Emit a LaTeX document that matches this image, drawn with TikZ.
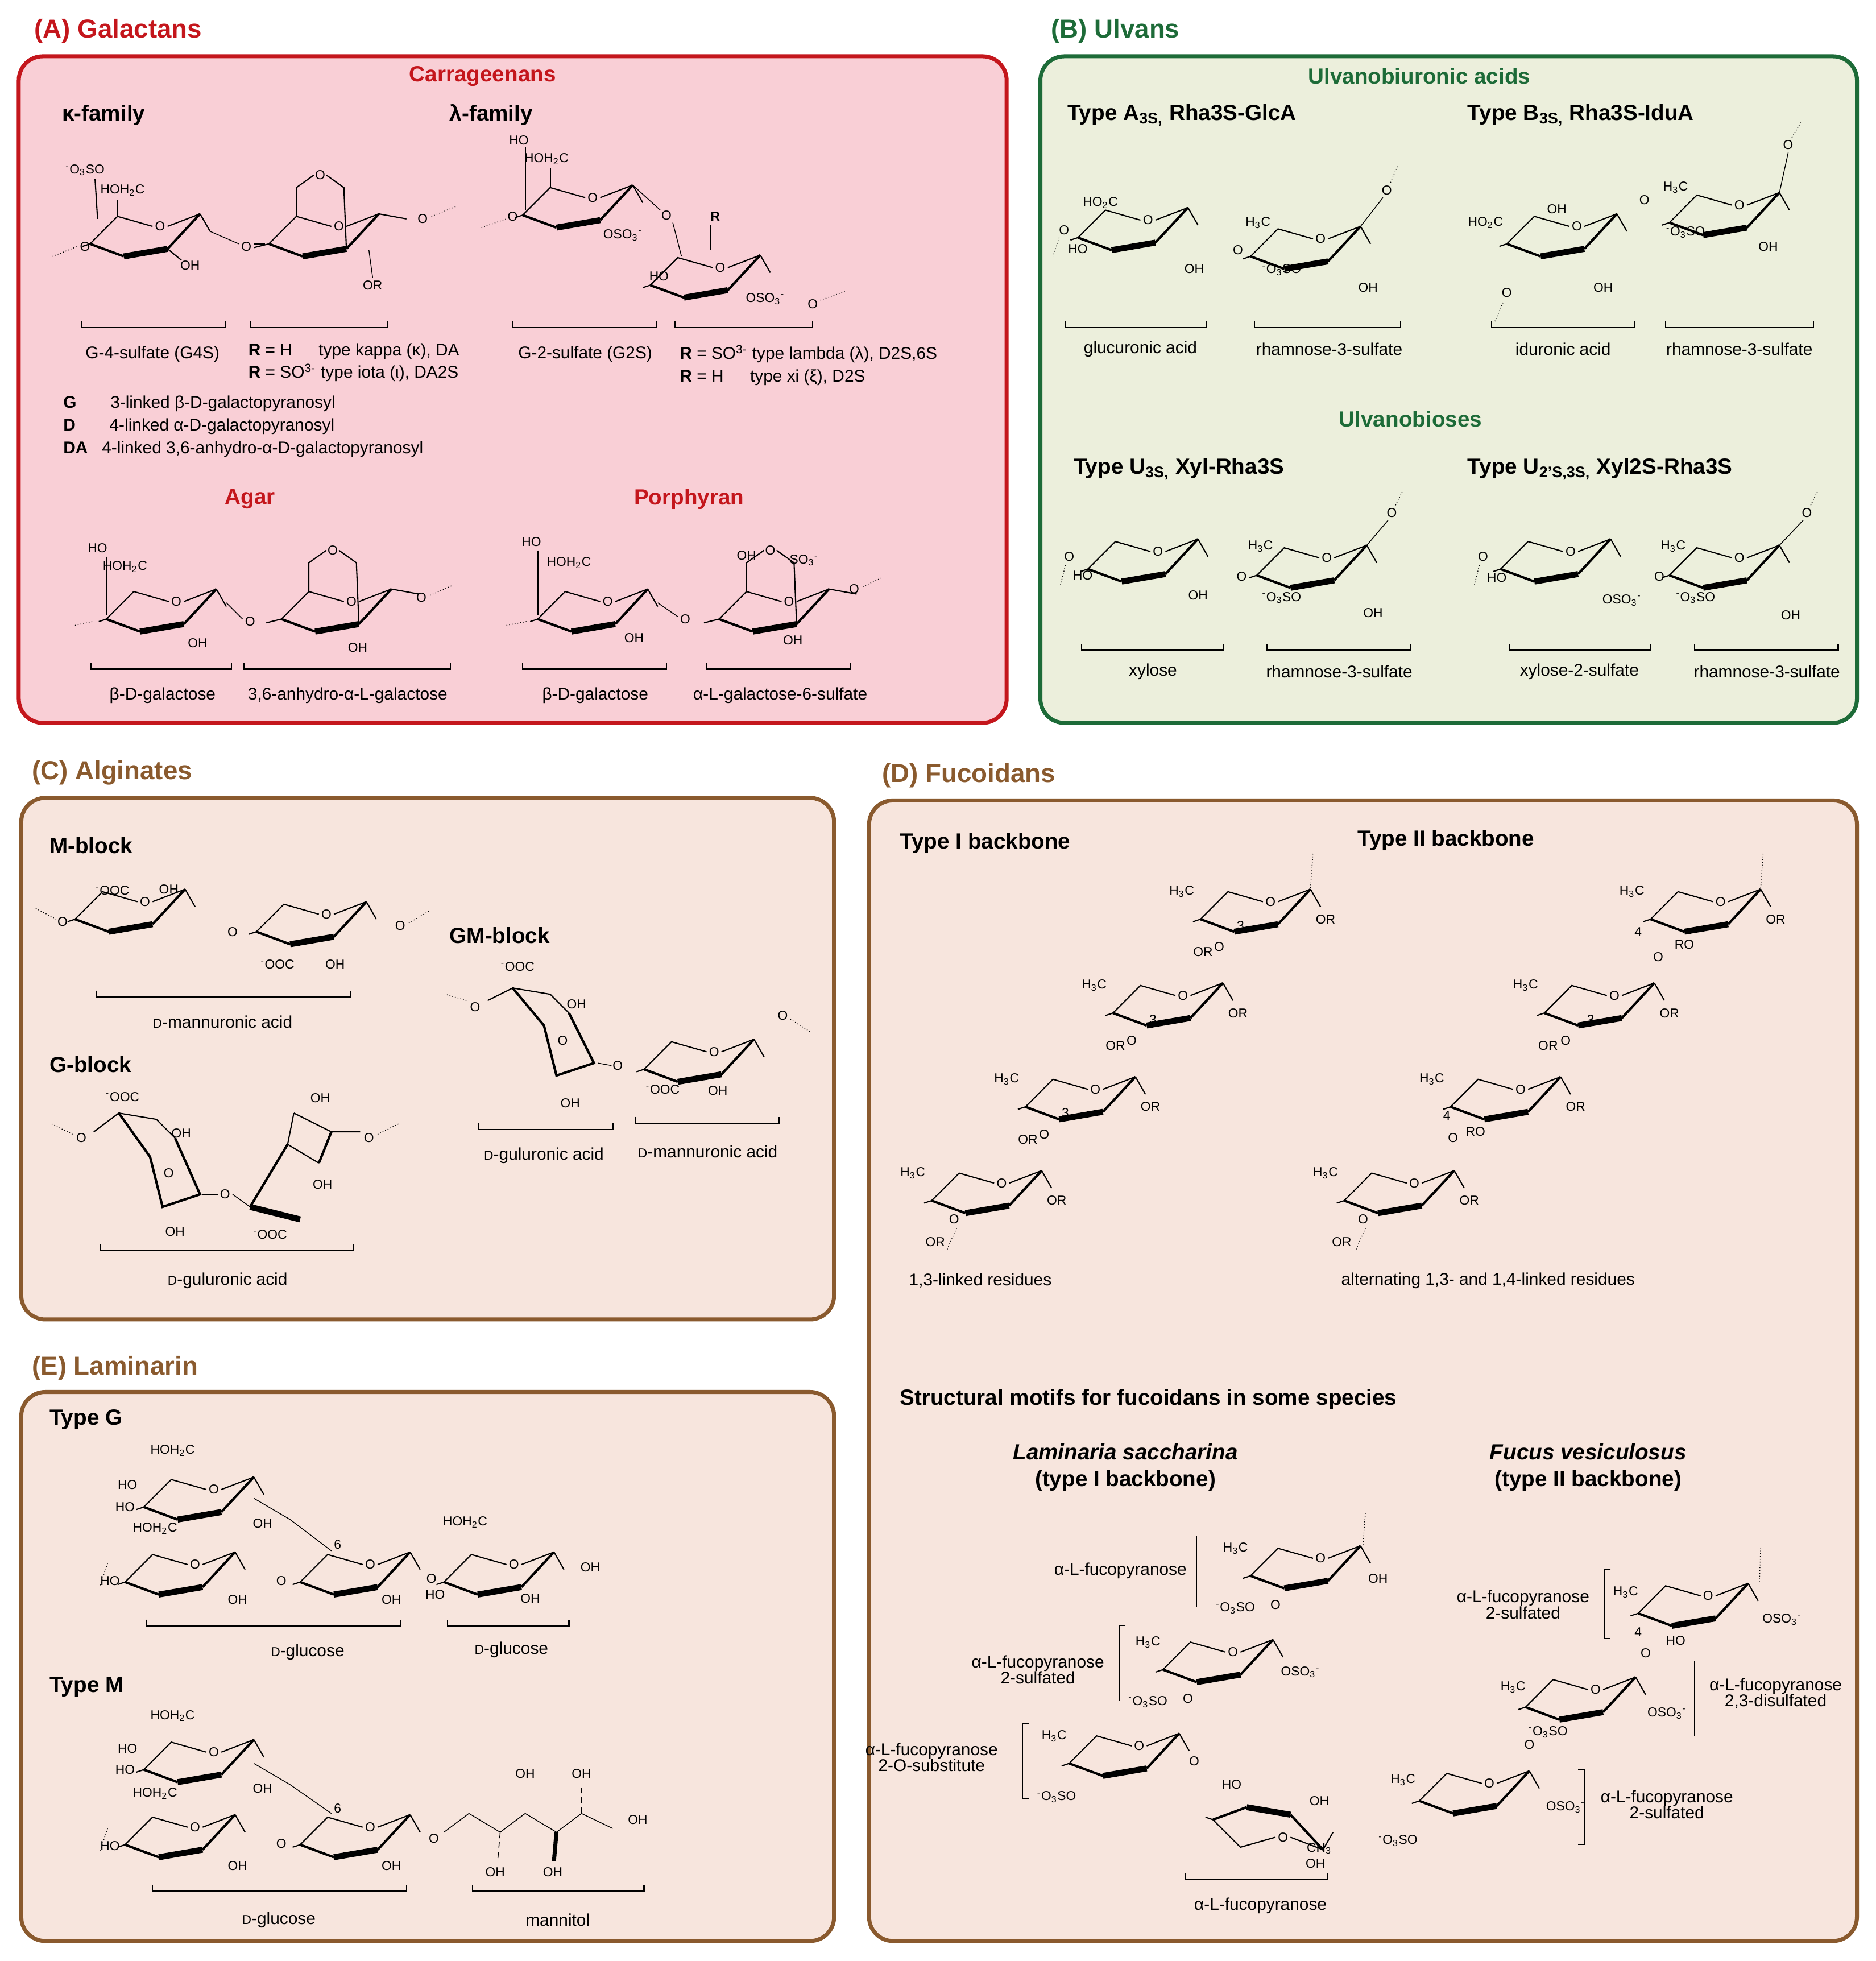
\documentclass[tikz,border=0pt]{standalone}
\usepackage{fontspec}
\setmainfont{Liberation Sans}
\begin{document}
\definecolor{pinkf}{HTML}{F9CFD6}\definecolor{redl}{HTML}{C4161C}
\definecolor{greenf}{HTML}{ECEFDC}\definecolor{greenl}{HTML}{1D6B38}
\definecolor{brownf}{HTML}{F7E5DD}\definecolor{brownl}{HTML}{8A5A2E}
\newcommand{\scD}{{\fontsize{6.5}{7}\selectfont D}}
\begin{tikzpicture}[x=0.022cm,y=-0.022cm,
 box/.style={rounded corners=12pt,line width=2pt},
 ttl/.style={font=\bfseries\fontsize{13}{15}\selectfont,anchor=west},
 sub/.style={font=\bfseries\fontsize{11}{13}\selectfont},
 lbl/.style={font=\fontsize{8.5}{10}\selectfont},
 sm/.style={font=\fontsize{6.5}{7}\selectfont,inner sep=1pt},
 chair/.pic={
  \draw[line width=0.6pt] (0,0)--(22,-22)--(50,-14);
  \draw[line width=0.6pt] (62,-14)--(88,-24);
  \node[sm] at (56,-14) {O};
  \draw[line width=1.2pt] (0,0)--(27,10);
  \draw[line width=3pt] (27,10)--(62,4);
  \draw[line width=1.2pt] (62,4)--(88,-24);
  \draw[line width=0.6pt] (88,-24)--(96,-10);
  \draw[line width=0.6pt] (0,0)--(-6,2);
 },
 bic/.pic={
  \draw[line width=0.6pt] (0,0)--(22,-22)--(50,-14);
  \draw[line width=0.6pt] (62,-14)--(88,-24);
  \node[sm] at (56,-14) {O};
  \draw[line width=1.2pt] (0,0)--(27,10);
  \draw[line width=3pt] (27,10)--(62,4);
  \draw[line width=1.2pt] (62,4)--(88,-24);
  \draw[line width=0.6pt] (22,-22)--(22,-45)--(36,-55); \draw[line width=0.6pt] (46,-55)--(60,-45)--(62,4);
  \node[sm] at (41,-55) {O};
  \draw[line width=0.6pt] (88,-24)--(110,-20);
  \draw[line width=0.6pt] (0,0)--(-12,3);
 }]
\newcommand{\brk}[3]{\draw[line width=0.6pt] (#1,#3-5)--(#1,#3)--(#2,#3)--(#2,#3-5);}
\newcommand{\lk}[2]{\node[sm] at (#1,#2) {O};}
\useasboundingbox (0,0) rectangle (1500,1568);
\fill[white] (0,0) rectangle (1500,1568);
% boxes
\draw[box,draw=redl,fill=pinkf] (15,45) rectangle (805,578);
\draw[box,draw=greenl,fill=greenf] (832,45) rectangle (1485,578);
\draw[box,draw=brownl,fill=brownf] (17,638) rectangle (667,1055);
\draw[box,draw=brownl,fill=brownf] (695,640) rectangle (1485,1552);
\draw[box,draw=brownl,fill=brownf] (17,1113) rectangle (667,1552);
\node[ttl,text=redl] (tA) at (22,25) {(A) Galactans};
\node[ttl,text=greenl] (tB) at (835,25) {(B) Ulvans};
\node[ttl,text=brownl] (tC) at (20,618) {(C) Alginates};
\node[ttl,text=brownl] (tD) at (700,620) {(D) Fucoidans};
\node[ttl,text=brownl] (tE) at (20,1094) {(E) Laminarin};
%%% A
\node[sub,text=redl] at (386,61) {Carrageenans};
\node[sub,anchor=west] at (44,92) {κ-family};
\node[sub,anchor=west] at (354,92) {λ-family};
\pic at (72,195) {chair}; \pic at (215,195) {bic};
\draw[densely dotted] (42,205)--(62,197); \node[sm] at (68,197){O};
\node[sm] at (68,136) {\textsuperscript{-}O\textsubscript{3}SO};
\node[sm] at (98,152) {HOH\textsubscript{2}C};
\draw[line width=0.6pt] (94,173)--(94,160); \draw[line width=0.6pt] (78,175)--(76,143);
\node[sm] at (152,212) {OH};\draw[line width=0.6pt](134,199)--(145,208);\lk{197}{197}
\draw (168,185)--(191,195); \draw (203,195)--(212,195);
\draw (295,200)--(298,222); \node[sm] at (298,228) {OR};
\lk{338}{175}\draw[densely dotted](345,173)--(365,165);
\brk{65}{180}{262}\brk{200}{310}{262}
\node[lbl] at (122,283) {G-4-sulfate (G4S)};
\node[lbl,anchor=west] at (193,281) {\textbf{R} = H\quad\ \ type kappa (κ), DA};
\node[lbl,anchor=west] at (193,298) {\textbf{R} = SO\textsuperscript{3-}\ type iota (ι), DA2S};
\node[lbl,anchor=west] at (45,323) {\textbf{G}\qquad 3-linked β-D-galactopyranosyl};
\node[lbl,anchor=west] at (45,341) {\textbf{D}\qquad 4-linked α-D-galactopyranosyl};
\node[lbl,anchor=west] at (45,359) {\textbf{DA}\ \ \ 4-linked 3,6-anhydro-α-D-galactopyranosyl};
\pic at (418,172) {chair}; \pic at (520,228) {chair};
\draw[densely dotted] (385,182)--(405,175); \lk{410}{173}
\node[sm] at (415,112) {HO}; \node[sm] at (437,127) {HOH\textsubscript{2}C};
\draw[line width=0.6pt](420,118)--(420,168);\draw[line width=0.6pt](440,150)--(440,134);
\node[sm] at (498,188) {OSO\textsubscript{3}\textsuperscript{-}}; \lk{533}{172}
\draw (506,148)--(528,168); \draw (538,178)--(545,205);
\node[sm] at (572,173) {\textbf{R}}; \draw (568,180)--(568,200);
\node[sm] at (527,221) {HO}; \node[sm] at (612,239) {OSO\textsubscript{3}\textsuperscript{-}};
\lk{650}{243}\draw[densely dotted](656,240)--(676,233);
\brk{410}{525}{262}\brk{540}{650}{262}
\node[lbl] at (468,283) {G-2-sulfate (G2S)};
\node[lbl,anchor=west] at (538,283) {\textbf{R} = SO\textsuperscript{3-}\ type lambda (λ), D2S,6S};
\node[lbl,anchor=west] at (538,302) {\textbf{R} = H\quad\ \ type xi (ξ), D2S};
\node[sub,text=redl] at (200,399) {Agar};
\node[sub,text=redl] at (551,399) {Porphyran};
\pic at (85,495) {chair}; \pic at (225,495) {bic};
\draw[densely dotted] (60,500)--(74,497);
\node[sm] at (78,438) {HO}; \node[sm] at (100,453) {HOH\textsubscript{2}C};
\draw[line width=0.6pt](85,445)--(85,492);
\node[sm] at (158,514) {OH}; \lk{200}{497}\draw(181,482)--(194,495);\node[sm] at (286,518) {OH};
\lk{337}{478}\draw[densely dotted](344,476)--(362,468);
\brk{73}{185}{535}\brk{195}{360}{535}
\node[lbl] at (130,556) {β-D-galactose};
\node[lbl] at (278,556) {3,6-anhydro-α-L-galactose};
\pic at (430,495) {chair}; \pic at (575,495) {bic};
\draw[densely dotted] (405,500)--(421,497);
\node[sm] at (425,433) {HO}; \node[sm] at (455,450) {HOH\textsubscript{2}C};
\draw[line width=0.6pt](430,440)--(430,492);
\node[sm] at (507,510) {OH}; \lk{548}{495}\draw(526,482)--(542,493);
\node[sm] at (597,444) {OH}; \node[sm] at (643,448) {SO\textsubscript{3}\textsuperscript{-}};
\node[sm] at (634,512) {OH}; \lk{683}{471}\draw[densely dotted](690,469)--(705,462);
\brk{418}{533}{535}\brk{565}{680}{535}
\node[lbl] at (476,556) {β-D-galactose};
\node[lbl] at (624,556) {α-L-galactose-6-sulfate};
%%% B
\node[sub,text=greenl] at (1135,61) {Ulvanobiuronic acids};
\node[sub,anchor=west] at (848,92) {Type A\textsubscript{3S,} Rha3S-GlcA};
\node[sub,anchor=west] at (1168,92) {Type B\textsubscript{3S,} Rha3S-IduA};
\pic at (862,190) {chair}; \pic at (1000,205) {chair};
\lk{851}{184}\draw[densely dotted](847,190)--(842,205);
\node[sm] at (880,162){HO\textsubscript{2}C}; \node[sm] at (862,199){HO};
\node[sm] at (955,215){OH}; \lk{990}{200}
\node[sm] at (1006,178){H\textsubscript{3}C}; \node[sm] at (1025,216){\textsuperscript{-}O\textsubscript{3}SO};
\node[sm] at (1094,230){OH}; \lk{1109}{152}\draw[densely dotted](1112,146)--(1118,132);
\draw(1088,181)--(1106,158);
\brk{852}{965}{262}\brk{1003}{1120}{262}
\node[lbl] at (912,279) {glucuronic acid};
\node[lbl] at (1063,279) {rhamnose-3-sulfate};
\pic at (1205,195) {chair}; \pic at (1335,178) {chair};
\node[sm] at (1188,178){HO\textsubscript{2}C}; \node[sm] at (1245,167){OH};
\node[sm] at (1282,230){OH}; \lk{1205}{234}\draw[densely dotted](1202,242)--(1195,258);
\lk{1315}{160}\node[sm] at (1340,150){H\textsubscript{3}C};
\node[sm] at (1348,186){\textsuperscript{-}O\textsubscript{3}SO}; \node[sm] at (1414,197){OH};
\lk{1430}{116}\draw[densely dotted](1433,110)--(1440,98);\draw(1423,154)--(1430,122);
\brk{1193}{1307}{262}\brk{1332}{1450}{262}
\node[lbl] at (1250,279) {iduronic acid};
\node[lbl] at (1391,279) {rhamnose-3-sulfate};
\node[sub,text=greenl] at (1128,335) {Ulvanobioses};
\node[sub,anchor=west] at (853,375) {Type U\textsubscript{3S,} Xyl-Rha3S};
\node[sub,anchor=west] at (1168,375) {Type U\textsubscript{2'S,3S,} Xyl2S-Rha3S};
\pic at (870,455) {chair}; \pic at (1005,460) {chair};
\lk{855}{445}\draw[densely dotted](852,452)--(848,468);
\node[sm] at (866,460){HO}; \node[sm] at (958,476){OH}; \lk{993}{461}
\node[sm] at (1008,437){H\textsubscript{3}C}; \node[sm] at (1025,478){\textsuperscript{-}O\textsubscript{3}SO};
\node[sm] at (1098,490){OH}; \lk{1113}{410}\draw[densely dotted](1116,404)--(1122,392);\draw(1093,436)--(1110,416);
\brk{865}{978}{520}\brk{1013}{1128}{520}
\node[lbl] at (922,537) {xylose}; \node[lbl] at (1071,537) {rhamnose-3-sulfate};
\pic at (1200,455) {chair}; \pic at (1335,460) {chair};
\lk{1186}{445}\draw[densely dotted](1183,452)--(1179,468);
\node[sm] at (1197,462){HO}; \node[sm] at (1297,480){OSO\textsubscript{3}\textsuperscript{-}}; \lk{1327}{461}
\node[sm] at (1338,437){H\textsubscript{3}C}; \node[sm] at (1356,478){\textsuperscript{-}O\textsubscript{3}SO};
\node[sm] at (1432,492){OH}; \lk{1445}{410}\draw[densely dotted](1448,404)--(1454,392);\draw(1423,436)--(1442,416);
\brk{1207}{1320}{520}\brk{1355}{1470}{520}
\node[lbl] at (1263,537) {xylose-2-sulfate}; \node[lbl] at (1413,537) {rhamnose-3-sulfate};
%%% C
\node[sub,anchor=west] at (34,676) {M-block};
\pic at (60,735) {chair}; \pic at (205,745) {chair};
\lk{50}{737}\draw[densely dotted](45,735)--(28,726);
\node[sm] at (90,712){\textsuperscript{-}OOC}; \node[sm] at (135,711){OH};
\lk{186}{745}\node[sm] at (222,771){\textsuperscript{-}OOC}; \node[sm] at (268,771){OH};
\lk{320}{740}\draw[densely dotted](327,738)--(344,728);
\brk{77}{280}{797}\node[lbl] at (178,817) {\scD-mannuronic acid};
\node[sub,anchor=west] at (354,748) {GM-block};
\node[sm] at (414,773){\textsuperscript{-}OOC};
\draw[line width=0.6pt](390,800)--(410,790)--(440,795)--(455,810);
\draw[line width=1.2pt](410,790)--(435,820)--(445,860)--(475,850)--(455,810);
\node[sm] at (461,803){OH};\node[sm] at (450,832){O};\node[sm] at (456,882){OH};
\lk{380}{805}\draw[densely dotted](373,800)--(356,795);
\lk{494}{852}\draw(478,850)--(489,852);\pic at (515,855) {chair};
\node[sm] at (530,871){\textsuperscript{-}OOC};\node[sm] at (574,872){OH};
\lk{626}{812}\draw[densely dotted](632,815)--(648,825);
\brk{383}{490}{903}\brk{508}{623}{898}
\node[lbl] at (435,924) {\scD-guluronic acid};
\node[lbl] at (566,921) {\scD-mannuronic acid};
\node[sub,anchor=west] at (34,851) {G-block};
\node[sm] at (98,877){\textsuperscript{-}OOC};\node[sm] at (145,906){OH};
\draw[line width=0.6pt](75,905)--(95,890)--(125,895)--(140,910);
\draw[line width=1.2pt](95,890)--(120,925)--(130,965)--(160,955)--(140,910);
\node[sm] at (135,938){O};\node[sm] at (140,985){OH};\lk{65}{910}
\draw[densely dotted](58,907)--(40,898);\lk{180}{955}\draw(162,955)--(174,955);\draw(186,955)--(200,965);
\draw[line width=0.6pt](235,890)--(230,915)--(255,930);
\draw[line width=1.2pt](200,965)--(230,915);\draw[line width=1.2pt](265,905)--(255,930);
\draw[line width=0.6pt](235,890)--(265,905)--(288,905);
\draw[line width=3pt](200,965)--(240,975);\node[sm] at (256,878){OH};\node[sm] at (258,947){OH};
\node[sm] at (216,987){\textsuperscript{-}OOC};\lk{295}{910}\draw[densely dotted](302,907)--(320,898);
\brk{80}{283}{1000}\node[lbl] at (182,1024) {\scD-guluronic acid};
%%% D
\node[sub,anchor=west] at (714,674) {Type I backbone};
\node[sub,anchor=west] at (1080,672) {Type II backbone};
\foreach \x/\y in {960/735,890/810,820/885,745/960}{
 \pic at (\x,\y) {chair};
 \node[sm] at (\x-15,\y-22){H\textsubscript{3}C};
 \node[sm] at (\x+100,\y){OR};}
\draw[densely dotted](1048,710)--(1050,682);
\foreach \x/\y in {960/735,890/810,820/885}{\node[sm] at (\x+2,\y+26){OR};\node[sm] at (\x+15,\y+22){O};\node[sm] at (\x+32,\y+5){3};}
\node[sm] at (748,993){OR};\node[sm] at (763,975){O};\draw[densely dotted](765,982)--(757,1000);
\node[lbl] at (784,1024) {1,3-linked residues};
\foreach \x/\y in {1320/735,1235/810,1160/885,1075/960}{
 \pic at (\x,\y) {chair};
 \node[sm] at (\x-15,\y-22){H\textsubscript{3}C};
 \node[sm] at (\x+100,\y){OR};}
\draw[densely dotted](1408,710)--(1410,682);
\node[sm] at (1310,745){4};\node[sm] at (1347,755){RO};\node[sm] at (1326,765){O};
\node[sm] at (1238,836){OR};\node[sm] at (1272,815){3};\node[sm] at (1252,832){O};
\node[sm] at (1157,892){4};\node[sm] at (1180,905){RO};\node[sm] at (1162,910){O};
\node[sm] at (1073,993){OR};\node[sm] at (1090,975){O};\draw[densely dotted](1092,982)--(1084,1000);
\node[lbl] at (1190,1024) {alternating 1,3- and 1,4-linked residues};
\node[sub,anchor=west] at (714,1119) {Structural motifs for fucoidans in some species};
\node[sub,font=\bfseries\itshape\fontsize{11}{13}\selectfont] at (900,1161) {Laminaria saccharina};
\node[sub] at (900,1184) {(type I backbone)};
\node[sub,font=\bfseries\itshape\fontsize{11}{13}\selectfont] at (1270,1161) {Fucus vesiculosus};
\node[sub] at (1270,1184) {(type II backbone)};
\pic at (1000,1260) {chair};\pic at (930,1335) {chair};\pic at (855,1410) {chair};
\pic[yscale=-1] at (970,1455) {chair};
\draw[densely dotted](1090,1235)--(1092,1208);
\node[sm] at (988,1238){H\textsubscript{3}C};\node[sm] at (1102,1262){OH};\node[sm] at (988,1286){\textsuperscript{-}O\textsubscript{3}SO};
\node[sm] at (1020,1283){O};
\node[sm] at (918,1313){H\textsubscript{3}C};\node[sm] at (1040,1337){OSO\textsubscript{3}\textsuperscript{-}};\node[sm] at (918,1361){\textsuperscript{-}O\textsubscript{3}SO};
\node[sm] at (950,1358){O};
\node[sm] at (843,1388){H\textsubscript{3}C};\node[sm] at (845,1437){\textsuperscript{-}O\textsubscript{3}SO};\node[sm] at (955,1408){O};
\node[sm] at (985,1427){HO};\node[sm] at (1055,1440){OH};\node[sm] at (1055,1478){CH\textsubscript{3}};\node[sm] at (1052,1490){OH};
\node[lbl] at (896,1256) {α-L-fucopyranose};\draw(962,1228)--(957,1228)--(957,1285)--(962,1285);
\node[lbl,align=center] at (830,1335) {α-L-fucopyranose\\[-2pt]2-sulfated};\draw(900,1300)--(895,1300)--(895,1360)--(900,1360);
\node[lbl,align=center] at (745,1405) {α-L-fucopyranose\\[-2pt]2-O-substitute};\draw(823,1378)--(818,1378)--(818,1438)--(823,1438);
\brk{948}{1062}{1503}\node[lbl] at (1008,1524) {α-L-fucopyranose};
\pic at (1310,1290) {chair};\pic at (1220,1365) {chair};\pic at (1135,1440) {chair};
\draw[densely dotted](1407,1265)--(1408,1238);
\node[sm] at (1300,1273){H\textsubscript{3}C};\node[sm] at (1425,1295){OSO\textsubscript{3}\textsuperscript{-}};\node[sm] at (1310,1305){4};\node[sm] at (1340,1312){HO};
\node[sm] at (1210,1349){H\textsubscript{3}C};\node[sm] at (1333,1370){OSO\textsubscript{3}\textsuperscript{-}};\node[sm] at (1238,1385){\textsuperscript{-}O\textsubscript{3}SO};\node[sm] at (1316,1322){O};
\node[sm] at (1122,1423){H\textsubscript{3}C};\node[sm] at (1252,1445){OSO\textsubscript{3}\textsuperscript{-}};\node[sm] at (1118,1472){\textsuperscript{-}O\textsubscript{3}SO};\node[sm] at (1223,1395){O};
\node[lbl,align=center] at (1218,1283) {α-L-fucopyranose\\[-2pt]2-sulfated};\draw(1288,1255)--(1283,1255)--(1283,1310)--(1288,1310);
\node[lbl,align=center] at (1420,1354) {α-L-fucopyranose\\[-2pt]2,3-disulfated};\draw(1350,1328)--(1355,1328)--(1355,1388)--(1350,1388);
\node[lbl,align=center] at (1333,1443) {α-L-fucopyranose\\[-2pt]2-sulfated};\draw(1262,1415)--(1267,1415)--(1267,1475)--(1262,1475);
%%% E
\node[sub,anchor=west] at (34,1135) {Type G};
\pic at (115,1205) {chair};\pic at (100,1265) {chair};\pic at (240,1265) {chair};\pic at (355,1265) {chair};
\node[sm] at (138,1160){HOH\textsubscript{2}C};\node[sm] at (102,1187){HO};\node[sm] at (100,1205){HO};\node[sm] at (210,1218){OH};
\node[sm] at (124,1222){HOH\textsubscript{2}C};\node[sm] at (88,1264){HO};\node[sm] at (190,1279){OH};\lk{225}{1264}
\node[sm] at (313,1279){OH};\lk{345}{1262}\node[sm] at (372,1217){HOH\textsubscript{2}C};\node[sm] at (348,1275){HO};
\node[sm] at (424,1278){OH};\node[sm] at (472,1253){OH};\draw[densely dotted](86,1250)--(80,1268);
\draw(203,1198)--(232,1215)--(265,1240);\node[sm] at (270,1235){6};
\brk{117}{320}{1300}\brk{358}{455}{1300}
\node[lbl] at (246,1321) {\scD-glucose};\node[lbl] at (409,1319) {\scD-glucose};
\node[sub,anchor=west] at (34,1349) {Type M};
\pic at (115,1415) {chair};\pic at (100,1475) {chair};\pic at (240,1475) {chair};
\node[sm] at (138,1372){HOH\textsubscript{2}C};\node[sm] at (102,1398){HO};\node[sm] at (100,1415){HO};\node[sm] at (210,1430){OH};
\node[sm] at (124,1434){HOH\textsubscript{2}C};\node[sm] at (88,1476){HO};\node[sm] at (190,1492){OH};\lk{225}{1474}
\node[sm] at (313,1492){OH};\lk{347}{1470}\draw[densely dotted](86,1462)--(80,1480);
\draw(203,1410)--(232,1427)--(265,1450);\node[sm] at (270,1446){6};
\draw(355,1465)--(375,1450)--(400,1465)--(420,1450)--(445,1465)--(465,1450)--(490,1462);
\draw[densely dashed](400,1465)--(398,1488);\draw[densely dashed](420,1450)--(420,1428);
\draw[line width=2pt](445,1465)--(443,1488);\draw[densely dashed](465,1450)--(465,1428);
\node[sm] at (396,1497){OH};\node[sm] at (420,1418){OH};\node[sm] at (442,1497){OH};\node[sm] at (465,1418){OH};\node[sm] at (510,1455){OH};
\brk{122}{325}{1512}\brk{378}{515}{1512}
\node[lbl] at (223,1535) {\scD-glucose};\node[lbl] at (446,1535) {mannitol};
\end{tikzpicture}
\end{document}
